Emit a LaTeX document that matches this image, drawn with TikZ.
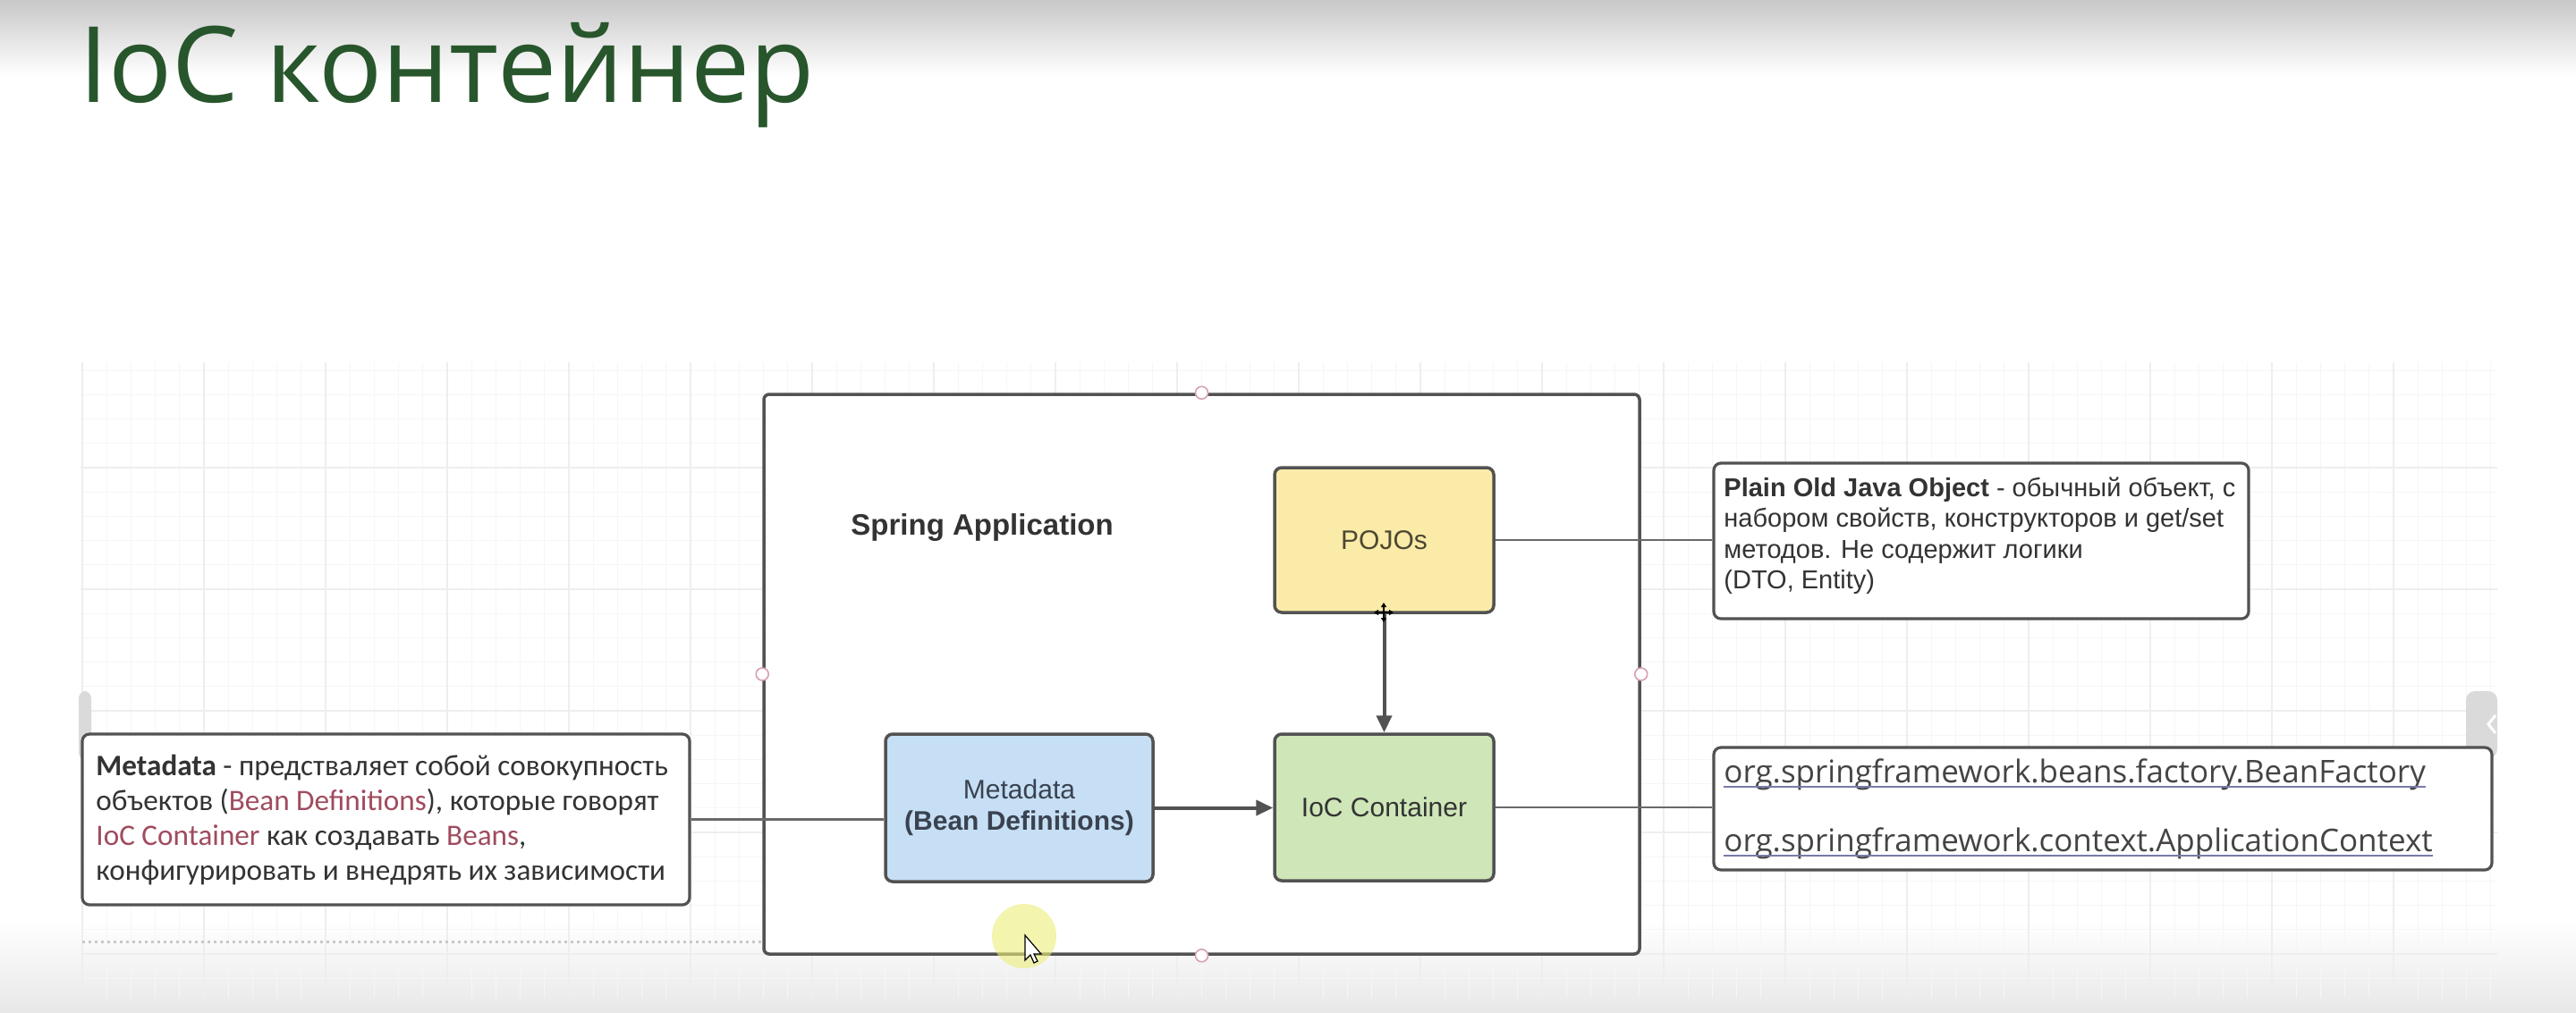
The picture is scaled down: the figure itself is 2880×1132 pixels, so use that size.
\documentclass[tikz,border=0pt]{standalone}
\usepackage{fontspec}
\setmainfont{Liberation Sans}
\newfontfamily\titlefont{Open Sans}
\newfontfamily\calfont{Carlito}
\newfontfamily\linkfont{Open Sans}
\usetikzlibrary{arrows.meta}

\definecolor{titlegreen}{RGB}{40,86,44}
\definecolor{edge}{RGB}{82,82,82}
\definecolor{wirecol}{RGB}{105,105,105}
\definecolor{pojofill}{RGB}{250,235,168}
\definecolor{iocfill}{RGB}{206,230,184}
\definecolor{metafill}{RGB}{198,223,244}
\definecolor{ink}{RGB}{51,51,51}
\definecolor{metaink}{RGB}{58,66,80}
\definecolor{pojoink}{RGB}{77,72,50}
\definecolor{rose}{RGB}{160,75,94}
\definecolor{linkline}{RGB}{120,124,168}
\definecolor{handlecol}{RGB}{214,160,176}
\definecolor{gridminor}{RGB}{246,246,246}
\definecolor{gridmajor}{RGB}{238,238,238}
\definecolor{tabgray}{RGB}{218,218,218}
\definecolor{topgray}{RGB}{200,200,200}
\definecolor{bottomgray}{RGB}{232,232,232}
\definecolor{glow}{RGB}{236,238,120}

\tikzset{
  blockbox/.style={draw=edge, line width=1.75pt, rounded corners=4pt, inner sep=0pt,
    font=\fontsize{15}{17.5}\selectfont, text=ink, align=center},
  notebox/.style={draw=edge, line width=1.6pt, rounded corners=4pt, fill=white, inner sep=0pt},
  wireline/.style={draw=wirecol, line width=1.25pt},
  flow/.style={draw=edge, line width=2pt, -{Triangle[length=9.5pt,width=8.5pt]}},
  handlept/.style={circle, draw=handlecol, fill=white, line width=0.8pt, inner sep=0pt, minimum size=7pt},
  txt/.style={anchor=base west, inner sep=0pt}
}

\begin{document}
\begin{tikzpicture}[x=0.5pt,y=-0.5pt]
\useasboundingbox (0,0) rectangle (2880,1132);

% page background with soft bands at top and bottom
\fill[white] (0,0) rectangle (2880,1132);
\shade[top color=topgray, bottom color=white] (0,0) rectangle (2880,85);
\shade[top color=white, bottom color=bottomgray] (0,1030) rectangle (2880,1132);

% canvas grid
\begin{scope}
  \clip (90,405) rectangle (2792,1115);
  \begin{scope}[shift={(92,387)}]
    \draw[gridminor, line width=0.6pt, step=13.6pt] (-10,740) grid (2710,-10);
    \draw[gridmajor, line width=0.7pt, step=68pt] (-10,740) grid (2710,-10);
  \end{scope}
\end{scope}
\draw[dotted, line width=1.5pt, color=topgray] (92,1053) -- (852,1053);

% side tabs
\fill[tabgray, rounded corners=4pt] (88,773) rectangle (102,850);
\fill[tabgray, rounded corners=5pt] (2757,773) rectangle (2792,848);
\draw[white, line width=1.5pt] (2790,800) -- (2782,810) -- (2790,820);

% title
\node[anchor=base west, inner sep=0pt, font=\titlefont\fontsize{59}{70}\selectfont, text=titlegreen]
  (title) at (88,114) {IoC контейнер};

% application frame
\node[blockbox, fill=white, rounded corners=3pt, minimum width=489.5pt, minimum height=313pt]
  (app) at (1343.5,754) {};
\node[txt, font=\bfseries\fontsize{16.5}{20}\selectfont, text=ink] (applabel) at (951,598) {Spring Application};

% blocks
\node[blockbox, fill=pojofill, minimum width=122.5pt, minimum height=81pt, text=pojoink]
  (pojo) at (1547.5,604) {POJOs};
\node[blockbox, fill=iocfill, minimum width=122.5pt, minimum height=82pt]
  (ioc) at (1547.5,903) {IoC Container};
\node[blockbox, fill=metafill, minimum width=149.5pt, minimum height=82.5pt, text=metaink]
  (meta) at (1139.5,903.5) {Metadata\\\textbf{(Bean Definitions)}};

% notes
\node[notebox, minimum width=299pt, minimum height=87pt] (pojonote) at (2215,605) {};
\node[notebox, minimum width=339.5pt, minimum height=95.5pt] (metanote) at (431.5,916.5) {};
\node[notebox, minimum width=435pt, minimum height=68.5pt] (apinote) at (2351,904.5) {};

% connectors
\draw[wireline] (metanote.east) -- (metanote.east -| meta.west);
\draw[wireline] (pojo.east) -- (pojo.east -| pojonote.west);
\draw[wireline] (ioc.east) -- (ioc.east -| apinote.west);
\draw[flow] (meta.east) -- (meta.east -| ioc.west);
\draw[flow] (pojo.south) -- (ioc.north);

% frame handles
\node[handlept] (hn) at (app.north) {};
\node[handlept] (hs) at (app.south) {};
\node[handlept] (hw) at (app.west) {};
\node[handlept] (he) at (app.east) {};

% POJO note text
\begin{scope}[font=\fontsize{14.5}{17}\selectfont, text=ink]
  \node[txt] (p1) at (1927,555) {\textbf{Plain Old Java Object} - обычный объект, с};
  \node[txt] (p2) at (1927,589.5) {набором свойств, конструкторов и get/set};
  \node[txt] (p3) at (1927,624) {методов. Не содержит логики};
  \node[txt] (p4) at (1927,658.5) {(DTO, Entity)};
\end{scope}

% metadata note text
\begin{scope}[font=\calfont\fontsize{16.6}{20}\selectfont, text=ink]
  \node[txt] (m1) at (107,867) {\textbf{Metadata} - предстваляет собой совокупность};
  \node[txt] (m2) at (107,906) {объектов (\textcolor{rose}{Bean Definitions}), которые говорят};
  \node[txt] (m3) at (107,945) {\textcolor{rose}{IoC Container} как создавать \textcolor{rose}{Beans},};
  \node[txt] (m4) at (107,984) {конфигурировать и внедрять их зависимости};
\end{scope}

% container interfaces note text
\begin{scope}[font=\linkfont\fontsize{17.5}{20}\selectfont, text={rgb,255:red,68;green,68;blue,68}]
  \node[txt] (a1) at (1927,875) {org.springframework.beans.factory.BeanFactory};
  \node[txt] (a2) at (1927,952) {org.springframework.context.ApplicationContext};
\end{scope}
\draw[linkline, line width=1pt] ([yshift=-2.5pt]a1.base west) -- ([yshift=-2.5pt]a1.base east);
\draw[linkline, line width=1pt] ([yshift=-2.5pt]a2.base west) -- ([yshift=-2.5pt]a2.base east);

% move cursor on the POJOs block
\draw[black, line width=0.8pt, {Triangle[length=2.5pt,width=3pt]}-{Triangle[length=2.5pt,width=3pt]}]
  (1536,685) -- (1558,685);
\draw[black, line width=0.8pt, {Triangle[length=2.5pt,width=3pt]}-{Triangle[length=2.5pt,width=3pt]}]
  (1547,674) -- (1547,696);

% pointer highlight
\fill[glow, opacity=0.6] (1145,1047) circle[radius=18pt];
\draw[black, fill=white, line width=0.6pt, shift={(1146,1046)}]
  (0,0) -- (0,28) -- (6,22) -- (10,31) -- (14,29) -- (10,21) -- (18,21) -- cycle;
\end{tikzpicture}
\end{document}
